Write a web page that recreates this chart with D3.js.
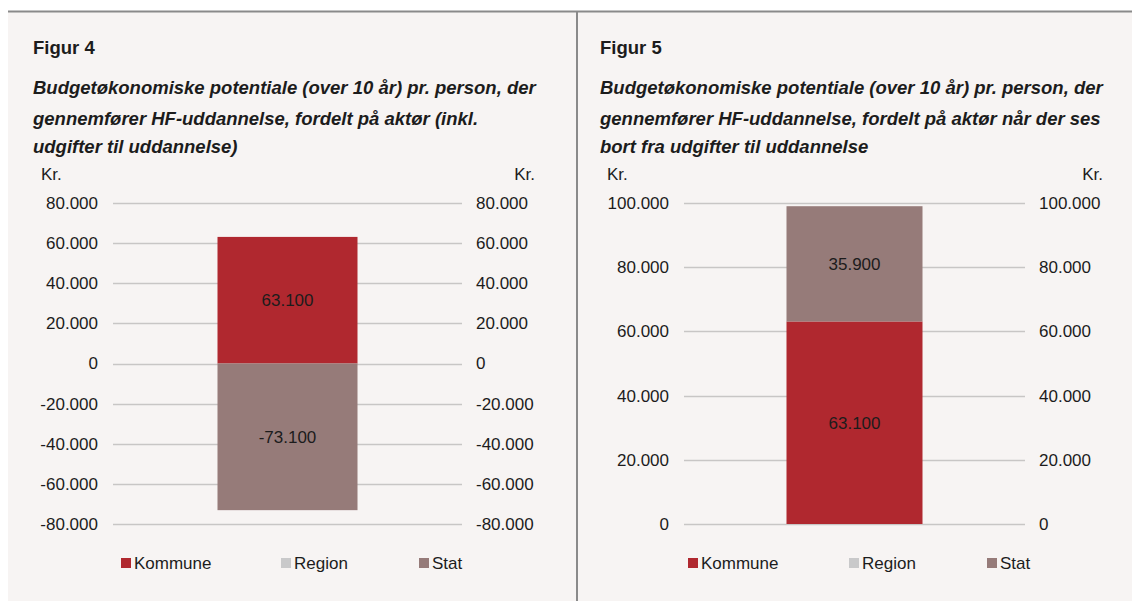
<!DOCTYPE html>
<html>
<head>
<meta charset="utf-8">
<script src="https://cdn.jsdelivr.net/npm/d3@7"></script>
<style>
  body { margin: 0; background: #fff; }
  svg text { font-family: "Liberation Sans", Arial, sans-serif; fill: #1c1c1c; }
</style>
</head>
<body>
<svg id="chart" width="1132" height="601"></svg>
<script>
// series / actors
var actors = ["Kommune", "Region", "Stat"];
var actorColors = ["#b0282f", "#c9c9ca", "#967b79"];

// Figur 4 (incl. education costs)
var fig4Values = [63100, 0, -73100];
var fig4Ticks = [-80000, -60000, -40000, -20000, 0, 20000, 40000, 60000, 80000];
var fig4Title = ["Budgetøkonomiske potentiale (over 10 år) pr. person, der",
                 "gennemfører HF-uddannelse, fordelt på aktør (inkl.",
                 "udgifter til uddannelse)"];

// Figur 5 (excl. education costs)
var fig5Values = [63100, 0, 35900];
var fig5Ticks = [0, 20000, 40000, 60000, 80000, 100000];
var fig5Title = ["Budgetøkonomiske potentiale (over 10 år) pr. person, der",
                 "gennemfører HF-uddannelse, fordelt på aktør når der ses",
                 "bort fra udgifter til uddannelse"];

var dk = d3.formatLocale({decimal: ",", thousands: ".", grouping: [3], currency: ["", " kr."], minus: "-"});
var fmt = dk.format(",.0f");

var svg = d3.select("#chart");

// panel background + frame lines
svg.append("rect").attr("x", 8).attr("y", 12).attr("width", 1124).attr("height", 589).attr("fill", "#f7f4f3");
svg.append("line").attr("x1", 8).attr("x2", 1132).attr("y1", 11.5).attr("y2", 11.5)
   .attr("stroke", "#8a8a8a").attr("stroke-width", 2);
svg.append("line").attr("x1", 577).attr("x2", 577).attr("y1", 12).attr("y2", 601)
   .attr("stroke", "#8a8a8a").attr("stroke-width", 2);

function drawPanel(opt) {
  var g = svg.append("g");

  g.append("text").attr("x", opt.titleX).attr("y", 54)
    .style("font-size", "18.5px").style("font-weight", "bold").text(opt.figLabel);

  g.selectAll(".ttl").data(opt.title).join("text")
    .attr("x", opt.titleX).attr("y", function(d, i) { return [94, 125, 153][i]; })
    .style("font-size", "18.5px").style("font-weight", "bold").style("font-style", "italic")
    .text(function(d) { return d; });

  var y = d3.scaleLinear().domain(opt.domain).range([524, 203]);
  var x = d3.scaleBand().domain(["HF"]).range([opt.gridL, opt.gridR])
    .paddingInner(0).paddingOuter(opt.outer);

  // grid
  g.selectAll(".grid").data(opt.ticks).join("line")
    .attr("x1", opt.gridL).attr("x2", opt.gridR)
    .attr("y1", function(d) { return Math.round(y(d)) + 0.5; })
    .attr("y2", function(d) { return Math.round(y(d)) + 0.5; })
    .attr("stroke", "#c8c6c5").attr("stroke-width", 1.3);

  var yl = g.append("g").attr("transform", "translate(" + opt.gridL + ",0)")
    .call(d3.axisLeft(y).tickValues(opt.ticks).tickSize(0).tickPadding(15).tickFormat(fmt));
  var yr = g.append("g").attr("transform", "translate(" + opt.gridR + ",0)")
    .call(d3.axisRight(y).tickValues(opt.ticks).tickSize(0).tickPadding(14).tickFormat(fmt));
  [yl, yr].forEach(function(a) {
    a.select(".domain").remove();
    a.selectAll("text").style("font-size", "17px").attr("fill", "#1c1c1c")
      .style("font-family", "'Liberation Sans', Arial, sans-serif");
  });

  g.append("text").attr("x", opt.krL).attr("y", 180).style("font-size", "17px").text("Kr.");
  g.append("text").attr("x", opt.krR).attr("y", 180).attr("text-anchor", "end")
    .style("font-size", "17px").text("Kr.");

  // stacked bar
  var row = {cat: "HF"};
  actors.forEach(function(a, i) { row[a] = opt.values[i]; });
  var stack = d3.stack().keys(actors).offset(d3.stackOffsetDiverging)([row]);

  stack.forEach(function(s, i) {
    var d = s[0];
    if (d[1] - d[0] === 0) return;
    g.append("rect")
      .attr("x", x("HF")).attr("width", x.bandwidth())
      .attr("y", y(Math.max(d[0], d[1])))
      .attr("height", Math.abs(y(d[0]) - y(d[1])))
      .attr("fill", actorColors[i]);
    g.append("text")
      .attr("x", x("HF") + x.bandwidth() / 2)
      .attr("y", (y(d[0]) + y(d[1])) / 2 + 6)
      .attr("text-anchor", "middle").style("font-size", "17px")
      .text(fmt(opt.values[i]));
  });

  // legend
  var lg = g.selectAll(".lg").data(actors).join("g")
    .attr("transform", function(d, i) { return "translate(" + opt.legendX[i] + ",558)"; });
  lg.append("rect").attr("width", 10).attr("height", 10)
    .attr("fill", function(d, i) { return actorColors[i]; });
  lg.append("text").attr("x", 13).attr("y", 11).style("font-size", "17px")
    .text(function(d) { return d; });
}

drawPanel({
  figLabel: "Figur 4", title: fig4Title, titleX: 33,
  values: fig4Values, ticks: fig4Ticks, domain: [-80000, 80000],
  gridL: 113, gridR: 462, outer: (349 / 140 - 1) / 2,
  krL: 41, krR: 535, legendX: [121, 281, 419]
});

drawPanel({
  figLabel: "Figur 5", title: fig5Title, titleX: 600,
  values: fig5Values, ticks: fig5Ticks, domain: [0, 100000],
  gridL: 684, gridR: 1025, outer: (341 / 136 - 1) / 2,
  krL: 607, krR: 1103, legendX: [688, 849, 987]
});
</script>
</body>
</html>
